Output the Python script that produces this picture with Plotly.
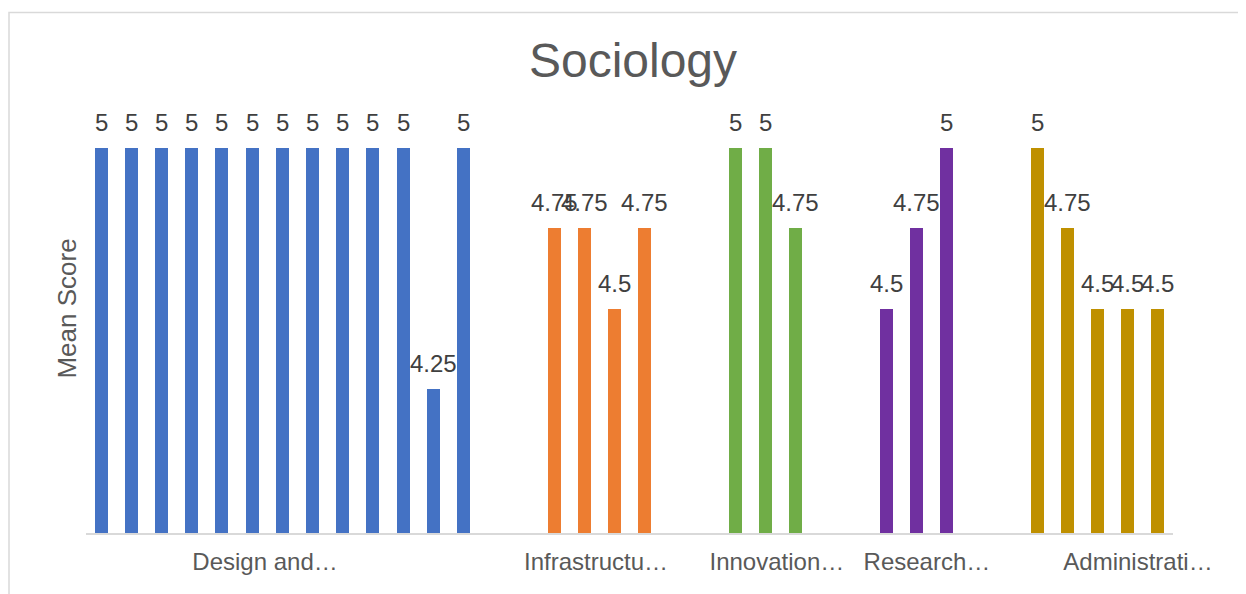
import plotly.graph_objects as go

# Mean scores per area (Sociology)
design_scores = [5, 5, 5, 5, 5, 5, 5, 5, 5, 5, 5, 4.25, 5]
infrastructure_scores = [4.75, 4.75, 4.5, 4.75]
innovation_scores = [5, 5, 4.75]
research_scores = [4.5, 4.75, 5]
administration_scores = [5, 4.75, 4.5, 4.5, 4.5]

group_labels = ["Design and…", "Infrastructu…", "Innovation…", "Research…", "Administrati…"]
group_colors = ["#4472C4", "#ED7D31", "#70AD47", "#7030A0", "#BF9000"]

# where Excel put the (truncated) category labels, in slot units
label_slots = [5.43, 16.39, 22.38, 27.35, 34.34]

GAP = 2  # empty slots between groups

fig = go.Figure()

slot = 0
groups = [design_scores, infrastructure_scores, innovation_scores,
          research_scores, administration_scores]
for scores, color, name in zip(groups, group_colors, group_labels):
    xs = list(range(slot, slot + len(scores)))
    fig.add_trace(go.Bar(
        x=xs,
        y=scores,
        name=name,
        width=0.43,
        marker=dict(color=color, line=dict(width=0)),
        hovertemplate="%{y}<extra></extra>",
    ))
    # data labels sit a bit higher above the bars than plotly's outside text
    for x, y in zip(xs, scores):
        fig.add_annotation(
            x=x, y=y, text=f"{y:g}",
            showarrow=False, yanchor="bottom", yshift=10,
            font=dict(size=24, color="#404040"),
        )
    slot += len(scores) + GAP

font_family = "Arial, Liberation Sans, sans-serif"

fig.update_layout(
    width=1246,
    height=594,
    margin=dict(l=78, r=81, t=76, b=69),
    paper_bgcolor="white",
    plot_bgcolor="white",
    showlegend=False,
    font=dict(family=font_family, color="#595959"),
    title=dict(
        text="Sociology",
        font=dict(size=48, color="#595959"),
        x=625 / 1246,
        xanchor="center",
        xref="container",
        y=1 - 52 / 594,
        yanchor="middle",
        yref="container",
    ),
    bargap=0,
)

fig.update_xaxes(
    range=[-0.5, 35.5],
    tickvals=label_slots,
    ticktext=group_labels,
    tickfont=dict(size=24, color="#595959"),
    ticks="",
    ticklabelstandoff=6,
    showgrid=False,
    zeroline=False,
    showline=True,
    linecolor="#d9d9d9",
    linewidth=2,
)

fig.update_yaxes(
    range=[3.8, 5.2],
    showticklabels=False,
    showgrid=False,
    zeroline=False,
    showline=False,
    title=dict(text="Mean Score", font=dict(size=26, color="#595959"), standoff=0),
)

# chart-area border (cropped at right and bottom in the original)
fig.add_shape(
    type="rect", xref="paper", yref="paper",
    x0=(1 - 78) / 1087, x1=1.3, y0=-0.5, y1=(525 - 4.5) / 449,
    line=dict(color="#d9d9d9", width=1.5), fillcolor="rgba(0,0,0,0)",
    layer="below",
)

fig.write_html("out.html")
